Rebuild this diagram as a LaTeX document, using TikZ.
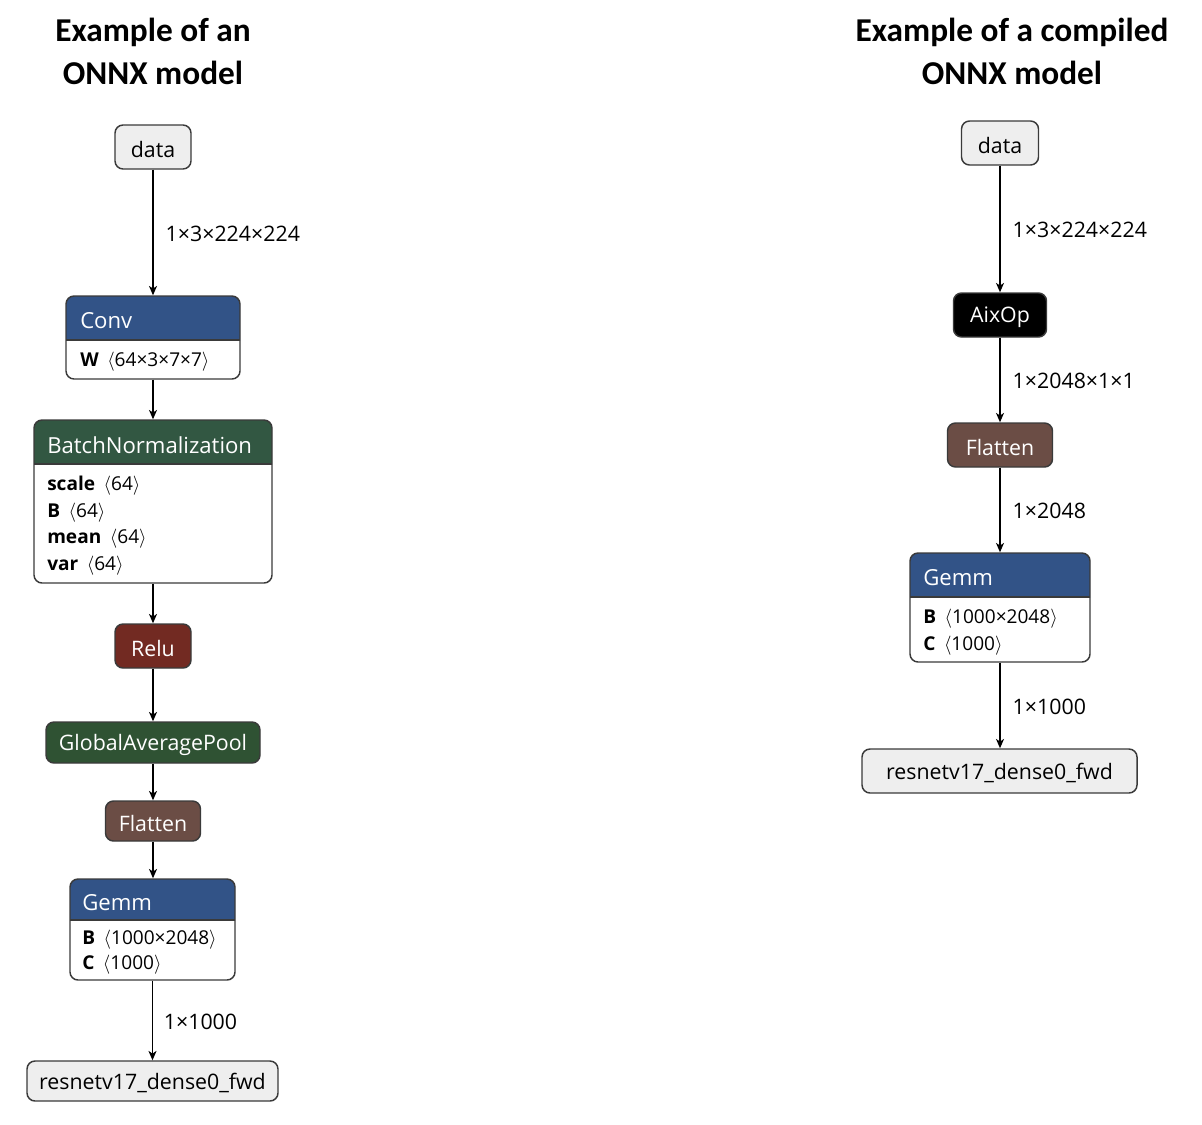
\documentclass[tikz,border=0pt]{standalone}
\usepackage{fontspec}
\setmainfont{Open Sans}
\newfontfamily\titlefont{Carlito}
\usetikzlibrary{arrows.meta}
\definecolor{convblue}{HTML}{325387}
\definecolor{bngreen}{HTML}{325742}
\definecolor{gapgreen}{HTML}{2F5233}
\definecolor{reluRed}{HTML}{722A22}
\definecolor{flatBrown}{HTML}{6B4D45}
\definecolor{ioGrey}{HTML}{EEEEEE}
\definecolor{edgeGrey}{HTML}{3A3A3A}
\tikzset{
  box/.style={draw=edgeGrey, line width=1.1pt, rounded corners=6pt, inner sep=0pt},
  iobox/.style={box, fill=ioGrey, text=black},
  opbox/.style={box, text=white},
  lbl/.style={font=\fontsize{16}{19}\selectfont, text depth=0pt, text height=0pt},
  hdrtxt/.style={anchor=west, text=white, inner sep=0pt, yshift=-1.5pt, font=\fontsize{16.6}{19}\selectfont},
  rowtxt/.style={anchor=west, inner sep=0pt, yshift=-1.5pt, font=\fontsize{14.3}{16}\selectfont},
  edgetxt/.style={anchor=west, inner sep=0pt, yshift=-1pt, font=\fontsize{16}{18}\selectfont},
  ttl/.style={font=\titlefont\bfseries\fontsize{25}{30}\selectfont, align=center, inner sep=0pt},
  arr/.style={-{Stealth[length=7pt,width=6pt,inset=2pt]}, line width=1.1pt, black},
}
\newcommand{\hdrfill}[5]{%
  \begin{scope}
    \clip (#2,#3) rectangle (#4,#5);
    \fill[#1, rounded corners=6pt] (#2,#3) rectangle (#4,#5+40);
  \end{scope}}
\newcommand{\shp}[1]{\hspace{0.45em}$\langle$#1$\rangle$}
\newcommand{\boxlabel}[3]{\node[anchor=center, inner sep=0pt, yshift=-1.5pt, font=\fontsize{16}{19}\selectfont, text=#3] (#1-t) at (#1.center) {#2};}
\begin{document}
\begin{tikzpicture}[x=0.75pt,y=-0.75pt]
\useasboundingbox (0,0) rectangle (1202,1124);

% titles
\node[ttl] (t1a) at (153,32) {Example of an};
\node[ttl] (t1b) at (153,73) {ONNX model};
\node[ttl] (t2a) at (1012,32) {Example of a compiled};
\node[ttl] (t2b) at (1012,73) {ONNX model};

% ---------------- left column ----------------
\node[iobox, minimum width={76*0.75pt}, minimum height={44*0.75pt}] (ldata) at (153,147) {};
\boxlabel{ldata}{data}{black}

% Conv
\hdrfill{convblue}{66}{296}{240}{340}
\node[box, minimum width={174*0.75pt}, minimum height={83*0.75pt}] (lconv) at (153,337.5) {};
\draw[edgeGrey, line width=1.1pt] (66,340) -- (240,340);
\node[hdrtxt] (lconvt) at (80,319) {Conv};
\node[rowtxt] (lconvw) at (80,360) {\textbf{W}\shp{64×3×7×7}};

% BatchNormalization
\hdrfill{bngreen}{34}{420}{272}{464}
\node[box, minimum width={238*0.75pt}, minimum height={163*0.75pt}] (lbn) at (153,501.5) {};
\draw[edgeGrey, line width=1.1pt] (34,464) -- (272,464);
\node[hdrtxt] (lbnt) at (47,443) {BatchNormalization};
\node[rowtxt] (lbn1) at (47,484) {\textbf{scale}\shp{64}};
\node[rowtxt] (lbn2) at (47,511) {\textbf{B}\shp{64}};
\node[rowtxt] (lbn3) at (47,537) {\textbf{mean}\shp{64}};
\node[rowtxt] (lbn4) at (47,564) {\textbf{var}\shp{64}};

% Relu
\node[opbox, fill=reluRed, minimum width={76*0.75pt}, minimum height={44*0.75pt}] (lrelu) at (153,646) {};
\boxlabel{lrelu}{Relu}{white}
% GAP
\node[opbox, fill=gapgreen, minimum width={214*0.75pt}, minimum height={41*0.75pt}] (lgap) at (153,742.5) {};
\boxlabel{lgap}{GlobalAveragePool}{white}
% Flatten
\node[opbox, fill=flatBrown, minimum width={95*0.75pt}, minimum height={40*0.75pt}] (lflat) at (153,821) {};
\boxlabel{lflat}{Flatten}{white}

% Gemm
\hdrfill{convblue}{70}{879}{235}{920}
\node[box, minimum width={165*0.75pt}, minimum height={101*0.75pt}] (lgemm) at (152.5,929.5) {};
\draw[edgeGrey, line width=1.1pt] (70,920) -- (235,920);
\node[hdrtxt] (lgemmt) at (82,901) {Gemm};
\node[rowtxt] (lgemm1) at (82,938) {\textbf{B}\shp{1000×2048}};
\node[rowtxt] (lgemm2) at (82,963) {\textbf{C}\shp{1000}};

% output
\node[iobox, minimum width={251*0.75pt}, minimum height={40*0.75pt}] (lout) at (152.5,1081) {};
\boxlabel{lout}{resnetv17\_dense0\_fwd}{black}

% left edges
\draw[arr] (ldata.south) -- (ldata.south |- lconv.north) node[edgetxt, pos=0.5, xshift=9pt] (le1) {1×3×224×224};
\draw[arr] (lconv.south) -- (lconv.south |- lbn.north);
\draw[arr] (lbn.south) -- (lbn.south |- lrelu.north);
\draw[arr] (lrelu.south) -- (lrelu.south |- lgap.north);
\draw[arr] (lgap.south) -- (lgap.south |- lflat.north);
\draw[arr] (lflat.south) -- (lflat.south |- lgemm.north);
\draw[arr] (lgemm.south) -- (lgemm.south |- lout.north) node[edgetxt, pos=0.5, xshift=8pt] (le2) {1×1000};

% ---------------- right column ----------------
\node[iobox, minimum width={77*0.75pt}, minimum height={44*0.75pt}] (rdata) at (1000,143) {};
\boxlabel{rdata}{data}{black}
\node[opbox, fill=black, minimum width={93*0.75pt}, minimum height={44*0.75pt}] (raix) at (1000,315) {};
\boxlabel{raix}{AixOp}{white}
\node[opbox, fill=flatBrown, minimum width={105*0.75pt}, minimum height={44*0.75pt}] (rflat) at (1000,445) {};
\boxlabel{rflat}{Flatten}{white}

\hdrfill{convblue}{910}{553}{1090}{597}
\node[box, minimum width={180*0.75pt}, minimum height={109*0.75pt}] (rgemm) at (1000,607.5) {};
\draw[edgeGrey, line width=1.1pt] (910,597) -- (1090,597);
\node[hdrtxt] (rgemmt) at (923,576) {Gemm};
\node[rowtxt] (rgemm1) at (923,617) {\textbf{B}\shp{1000×2048}};
\node[rowtxt] (rgemm2) at (923,644) {\textbf{C}\shp{1000}};

\node[iobox, minimum width={275*0.75pt}, minimum height={44*0.75pt}] (rout) at (999.5,771) {};
\boxlabel{rout}{resnetv17\_dense0\_fwd}{black}

\draw[arr] (rdata.south) -- (rdata.south |- raix.north) node[edgetxt, pos=0.5, xshift=9pt] (re1) {1×3×224×224};
\draw[arr] (raix.south) -- (raix.south |- rflat.north) node[edgetxt, pos=0.5, xshift=9pt] (re2) {1×2048×1×1};
\draw[arr] (rflat.south) -- (rflat.south |- rgemm.north) node[edgetxt, pos=0.5, xshift=9pt] (re3) {1×2048};
\draw[arr] (rgemm.south) -- (rgemm.south |- rout.north) node[edgetxt, pos=0.5, xshift=9pt] (re4) {1×1000};
\end{tikzpicture}
\end{document}
